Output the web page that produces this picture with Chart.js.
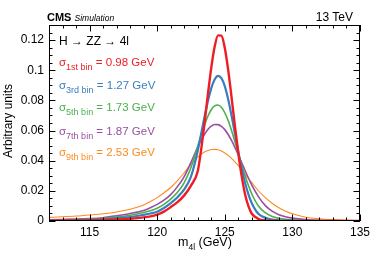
<!DOCTYPE html>
<html>
<head>
<meta charset="utf-8">
<script src="https://cdn.jsdelivr.net/npm/chart.js@4.4.1/dist/chart.umd.min.js"></script>
<style>
  html, body { margin: 0; padding: 0; background: #fff; }
  #wrap { position: relative; width: 374px; height: 253px; font-family: "Liberation Sans", Arial, sans-serif; color: #000; }
  #grafica { position: absolute; left: 0; top: 0; }
  .txt { position: absolute; white-space: nowrap; line-height: 1; }
  .sub { vertical-align: -4px; }
</style>
</head>
<body>
<div id="wrap">
  <canvas id="grafica" width="374" height="253"></canvas>
  <div class="txt" style="left:47px; top:12px; font-size:11px;"><b>CMS</b> <i style="font-size:8.5px;">Simulation</i></div>
  <div class="txt" style="right:21px; top:11px; font-size:12px;">13 TeV</div>
  <div class="txt" style="left:59px; top:35px; font-size:12px;">H &rarr; ZZ &rarr; 4l</div>
  <div id="leyenda"></div>
  <div class="txt" style="left:178px; top:236px; font-size:12.5px;">m<span class="sub" style="font-size:8.5px;">4l</span> (GeV)</div>
  <div class="txt" style="left:-32px; top:115px; width:80px; height:12px; line-height:12px; font-size:12px; text-align:center; transform:rotate(-90deg);">Arbitrary units</div>
</div>
<script>
// masa de los cuatro leptones (GeV)
const massGeV = [112, 113, 114, 115, 116, 117, 118, 119, 119.5, 120, 120.5, 121, 121.5, 122, 122.5, 123,
  123.25, 123.5, 123.75, 124, 124.25, 124.5, 124.75, 125, 125.25, 125.5, 125.75, 126, 126.25, 126.5, 126.75, 127,
  127.5, 128, 128.5, 129, 129.5, 130, 131, 132, 133, 134, 135];

// formas por bin de resolucion (unidades arbitrarias)
const bin1st = [0.0002, 0.0003, 0.0004, 0.0005, 0.0007, 0.0010, 0.0015, 0.0024, 0.0031, 0.0043, 0.0062, 0.0092, 0.0125, 0.0170, 0.0235, 0.0330,
  0.0472, 0.0648, 0.0838, 0.1016, 0.1155, 0.1231, 0.1229, 0.1148, 0.1004, 0.0822, 0.0629, 0.0451, 0.0298, 0.0178, 0.0098, 0.0048,
  0.0013, 0.0004, 0.0002, 0.0001, 0.0001, 0, 0, 0, 0, 0, 0];
const bin3rd = [0.0005, 0.0006, 0.0008, 0.0010, 0.0013, 0.0018, 0.0026, 0.0041, 0.0050, 0.0062, 0.0086, 0.0119, 0.0158, 0.0210, 0.0295, 0.0465,
  0.0577, 0.0690, 0.0794, 0.0880, 0.0938, 0.0963, 0.0948, 0.0895, 0.0808, 0.0699, 0.0579, 0.0459, 0.0349, 0.0254, 0.0177, 0.0118,
  0.0046, 0.0022, 0.0009, 0.0005, 0.0003, 0.0002, 0.0001, 0, 0, 0, 0];
const bin5th = [0.0007, 0.0008, 0.0010, 0.0013, 0.0018, 0.0026, 0.0038, 0.0056, 0.0068, 0.0085, 0.0110, 0.0145, 0.0190, 0.0255, 0.0355, 0.0495,
  0.0568, 0.0636, 0.0695, 0.0738, 0.0764, 0.0769, 0.0754, 0.0718, 0.0666, 0.0600, 0.0526, 0.0448, 0.0372, 0.0300, 0.0235, 0.0179,
  0.0098, 0.0055, 0.0030, 0.0018, 0.0011, 0.0007, 0.0003, 0.0001, 0.0001, 0, 0];
const bin7th = [0.0008, 0.0010, 0.0012, 0.0016, 0.0022, 0.0035, 0.0050, 0.0070, 0.0088, 0.0110, 0.0138, 0.0175, 0.0228, 0.0295, 0.0389, 0.0490,
  0.0536, 0.0575, 0.0607, 0.0629, 0.0640, 0.0639, 0.0628, 0.0606, 0.0574, 0.0534, 0.0488, 0.0438, 0.0387, 0.0335, 0.0285, 0.0238,
  0.0160, 0.0102, 0.0065, 0.0042, 0.0028, 0.0019, 0.0009, 0.0004, 0.0002, 0.0001, 0.0001];
const bin9th = [0.0024, 0.0028, 0.0033, 0.0040, 0.0048, 0.0060, 0.0078, 0.0106, 0.0130, 0.0155, 0.0187, 0.0222, 0.0268, 0.0320, 0.0377, 0.0424,
  0.0443, 0.0457, 0.0467, 0.0474, 0.0475, 0.0472, 0.0464, 0.0451, 0.0435, 0.0415, 0.0392, 0.0367, 0.0339, 0.0311, 0.0282, 0.0254,
  0.0199, 0.0155, 0.0118, 0.0088, 0.0065, 0.0048, 0.0025, 0.0015, 0.0009, 0.0005, 0.0003];

const binNames = ["1st bin", "3rd bin", "5th bin", "7th bin", "9th bin"];
const sigmaGeV = ["0.98", "1.27", "1.73", "1.87", "2.53"];
const colores = ["#ee1d24", "#3a7dbe", "#4dae4a", "#984ea3", "#ff8a1c"];
const grosores = [2.4, 2.2, 1.6, 1.6, 1.1];
const series = [bin1st, bin3rd, bin5th, bin7th, bin9th];

const xTicks = [115, 120, 125, 130, 135];
const yTicks = [0, 0.02, 0.04, 0.06, 0.08, 0.1, 0.12];

// etiquetas sigma dentro del grafico
const leyenda = document.getElementById("leyenda");
const baseTops = [57, 80, 102, 126, 147];
binNames.forEach((nombre, i) => {
    const d = document.createElement("div");
    d.className = "txt";
    d.style.left = "59px";
    d.style.top = baseTops[i] + "px";
    d.style.fontSize = "11.5px";
    d.style.color = colores[i];
    d.innerHTML = '&sigma;<span class="sub" style="font-size:9px;">' + nombre + '</span> = ' + sigmaGeV[i] + ' GeV';
    leyenda.appendChild(d);
});

// marcas de los ejes hacia dentro, estilo ROOT
const marcoPlugin = {
    id: "marco",
    afterDraw(chart) {
        const ctx = chart.ctx;
        const a = chart.chartArea;
        const xs = chart.scales.x;
        const ys = chart.scales.y;
        ctx.save();
        ctx.strokeStyle = "#000";
        ctx.lineWidth = 1;
        ctx.beginPath();
        for (let v = 112; v <= 135; v++) {
            const px = Math.round(xs.getPixelForValue(v)) + 0.5;
            const len = v % 5 === 0 ? 6.5 : 3.5;
            ctx.moveTo(px, a.bottom); ctx.lineTo(px, a.bottom - len);
            ctx.moveTo(px, a.top); ctx.lineTo(px, a.top + len);
        }
        for (let k = 0; k <= 26; k++) {
            const py = Math.round(ys.getPixelForValue(k * 0.005)) + 0.5;
            const len = k % 4 === 0 ? 6.5 : 3.5;
            ctx.moveTo(a.left, py); ctx.lineTo(a.left + len, py);
            ctx.moveTo(a.right, py); ctx.lineTo(a.right - len, py);
        }
        ctx.stroke();
        ctx.strokeRect(Math.round(a.left) + 0.5, Math.round(a.top) + 0.5,
            Math.round(a.right - a.left) - 1, Math.round(a.bottom - a.top) - 1);
        ctx.restore();
    }
};

const fuente = { family: '"Liberation Sans", Arial, sans-serif', size: 12 };

new Chart(document.getElementById("grafica"), {
    type: "line",
    data: {
        datasets: series.map((vals, i) => ({
            label: binNames[i],
            data: massGeV.map((m, j) => ({ x: m, y: vals[j] })),
            borderColor: colores[i],
            borderWidth: grosores[i],
            pointRadius: 0,
            fill: false,
            cubicInterpolationMode: "monotone"
        }))
    },
    options: {
        responsive: false,
        animation: false,
        devicePixelRatio: 1,
        layout: { padding: { top: 25, right: 13, left: 0, bottom: 0 } },
        plugins: { legend: { display: false }, tooltip: { enabled: false } },
        scales: {
            x: {
                type: "linear",
                min: 112,
                max: 135,
                grid: { display: false, drawTicks: false },
                border: { display: false },
                afterBuildTicks: (s) => { s.ticks = xTicks.map(v => ({ value: v })); },
                afterFit: (s) => { s.height = 32; },
                ticks: { font: fuente, color: "#000", padding: 4, maxRotation: 0, autoSkip: false }
            },
            y: {
                min: 0,
                max: 0.13,
                grid: { display: false, drawTicks: false },
                border: { display: false },
                afterBuildTicks: (s) => { s.ticks = yTicks.map(v => ({ value: v })); },
                afterFit: (s) => { s.width = 49; },
                ticks: {
                    font: fuente,
                    color: "#000",
                    padding: 5,
                    callback: (v) => String(parseFloat(Number(v).toFixed(2)))
                }
            }
        }
    },
    plugins: [marcoPlugin]
});
</script>
</body>
</html>
